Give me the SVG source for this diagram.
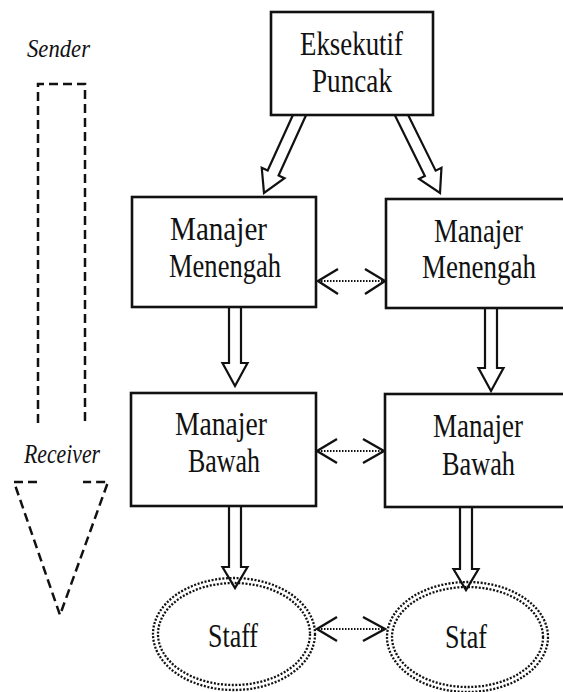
<svg xmlns="http://www.w3.org/2000/svg" width="563" height="692" viewBox="0 0 563 692">
<style>
.box{fill:#fff;stroke:#111;stroke-width:2.6}
.lbl{font-family:'Liberation Serif','DejaVu Serif','Times New Roman',serif;font-size:34px;fill:#111}
.it{font-family:'Liberation Serif','DejaVu Serif','Times New Roman',serif;font-style:italic;fill:#111}
.blk{fill:#fff;stroke:#111;stroke-width:2.2;stroke-linejoin:miter}
.dot{stroke:#111;stroke-width:1.8;stroke-dasharray:1.5 1.5;fill:none}
.chev{fill:none;stroke:#111;stroke-width:2.4;stroke-linecap:butt}
.ring{fill:none;stroke:#111;stroke-width:2.3;stroke-dasharray:2 1.6}
.dash{fill:none;stroke:#111;stroke-width:2.5;stroke-dasharray:9 5}
</style>
<defs>
<polygon id="diag" points="-6,-95 6,-95 6,-22 12.5,-22 0,0 -12.5,-22 -6,-22"/>
</defs>
<rect width="563" height="692" fill="#fff"/>

<g id="sender-receiver">
<text class="it" x="27" y="57" font-size="26" textLength="63" lengthAdjust="spacingAndGlyphs">Sender</text>
<path class="dash" d="M38,423 V84 H85 V423"/>
<text class="it" x="24" y="463" font-size="28" textLength="76" lengthAdjust="spacingAndGlyphs">Receiver</text>
<path class="dash" d="M37,482 H14 L60,615 L108,482 H83"/>
</g>

<g id="connectors">
<use href="#diag" class="blk" transform="translate(264,193) rotate(24.5)"/>
<use href="#diag" class="blk" transform="translate(440,193) rotate(-26.3)"/>
<polygon class="blk" points="229,300 241,300 241,363 247.5,363 235,386 222.5,363 229,363"/>
<polygon class="blk" points="485,300 497,300 497,368 503.5,368 491,391 478.5,368 485,368"/>
<polygon class="blk" points="229,500 241,500 241,567 247.5,567 235,588 222.5,567 229,567"/>
<polygon class="blk" points="460,500 472,500 472,569 478.5,569 466,590 453.5,569 460,569"/>
<line class="dot" x1="318" y1="281" x2="384" y2="281"/>
<polyline class="chev" points="338,269 318,281 338,294"/>
<polyline class="chev" points="365,269 385,281 365,294"/>
<line class="dot" x1="318" y1="451" x2="384" y2="451"/>
<polyline class="chev" points="337,439 317,451 337,463"/>
<polyline class="chev" points="363,439 384,451 363,463"/>
<line class="dot" x1="318" y1="629" x2="384" y2="629"/>
<polyline class="chev" points="337,617 317,629 337,641"/>
<polyline class="chev" points="363,617 385,629 363,641"/>
</g>

<g id="eksekutif-puncak">
<rect class="box" x="271" y="12" width="162" height="103"/>
<text class="lbl" x="300" y="55" textLength="103" lengthAdjust="spacingAndGlyphs">Eksekutif</text>
<text class="lbl" x="312" y="92" textLength="80" lengthAdjust="spacingAndGlyphs">Puncak</text>
</g>

<g id="menengah-left">
<rect class="box" x="132" y="197" width="184" height="110"/>
<text class="lbl" x="170" y="240" textLength="97" lengthAdjust="spacingAndGlyphs">Manajer</text>
<text class="lbl" x="169" y="277" textLength="112" lengthAdjust="spacingAndGlyphs">Menengah</text>
</g>

<g id="menengah-right">
<rect class="box" x="386" y="199" width="190" height="109"/>
<text class="lbl" x="434" y="242" textLength="89" lengthAdjust="spacingAndGlyphs">Manajer</text>
<text class="lbl" x="422" y="278" textLength="114" lengthAdjust="spacingAndGlyphs">Menengah</text>
</g>

<g id="bawah-left">
<rect class="box" x="131" y="393" width="185" height="113"/>
<text class="lbl" x="175" y="435" textLength="92" lengthAdjust="spacingAndGlyphs">Manajer</text>
<text class="lbl" x="188" y="472" textLength="72" lengthAdjust="spacingAndGlyphs">Bawah</text>
</g>

<g id="bawah-right">
<rect class="box" x="385" y="394" width="191" height="113"/>
<text class="lbl" x="433" y="437" textLength="90" lengthAdjust="spacingAndGlyphs">Manajer</text>
<text class="lbl" x="442" y="475" textLength="73" lengthAdjust="spacingAndGlyphs">Bawah</text>
</g>

<g id="staff-left">
<ellipse class="ring" cx="234" cy="634" rx="81" ry="56"/>
<ellipse class="ring" cx="234" cy="634" rx="76" ry="51"/>
<text class="lbl" x="208" y="647" textLength="50" lengthAdjust="spacingAndGlyphs">Staff</text>
</g>

<g id="staf-right">
<ellipse class="ring" cx="467.5" cy="637" rx="80.5" ry="55"/>
<ellipse class="ring" cx="467.5" cy="637" rx="75.5" ry="50"/>
<text class="lbl" x="445" y="648" textLength="42" lengthAdjust="spacingAndGlyphs">Staf</text>
</g>
</svg>
